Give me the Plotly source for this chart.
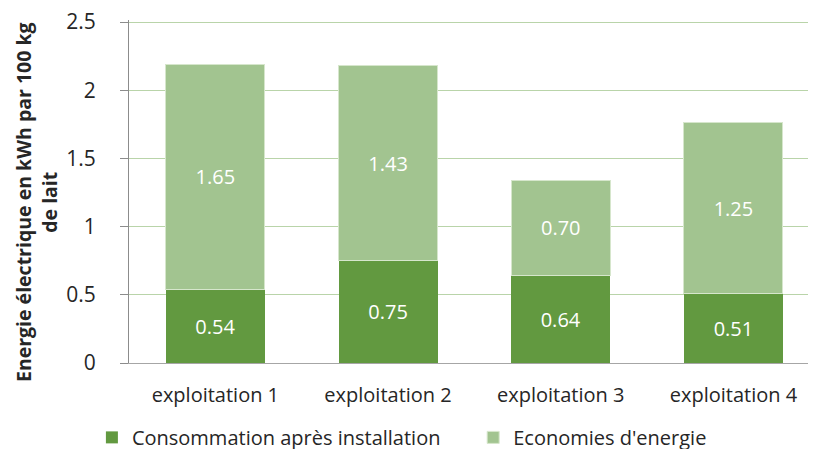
import plotly.graph_objects as go

categories = ["exploitation 1", "exploitation 2", "exploitation 3", "exploitation 4"]
consommation = [0.54, 0.75, 0.64, 0.51]
economies = [1.65, 1.43, 0.70, 1.25]
series_names = ["Consommation après installation", "Economies d'energie"]
y_ticks = [0, 0.5, 1, 1.5, 2, 2.5]
y_tick_labels = ["0", "0.5", "1", "1.5", "2", "2.5"]
y_title = "<b>Energie électrique en kWh par 100 kg<br>de lait</b>"

dark = "#629940"
light = "#a2c490"
txt = "#262626"
font_family = "Open Sans, Noto Sans, sans-serif"

fig = go.Figure()
fig.add_trace(go.Bar(
    x=categories, y=consommation, name=series_names[0], legend="legend",
    marker=dict(color=dark, line=dict(width=0)),
    texttemplate="%{y:.2f}", textposition="inside", insidetextanchor="middle",
    textfont=dict(color="white", size=20, family=font_family),
    width=0.573,
))
fig.add_trace(go.Bar(
    x=categories, y=economies, name=series_names[1], legend="legend2",
    marker=dict(color=light, line=dict(width=1, color="#d6e6cc")),
    texttemplate="%{y:.2f}", textposition="inside", insidetextanchor="middle",
    textfont=dict(color="white", size=20, family=font_family),
    width=0.573,
))

legend_common = dict(
    orientation="h", xanchor="left", y=-0.16, yanchor="top",
    font=dict(size=20, color=txt), bgcolor="rgba(0,0,0,0)",
)

# page body has an 8px default margin; the figure is offset accordingly
fig.update_layout(
    barmode="stack",
    width=808, height=460,
    margin=dict(l=121, r=0, t=12, b=105),
    paper_bgcolor="white", plot_bgcolor="white",
    font=dict(family=font_family, size=20, color=txt),
    uniformtext=dict(mode=False),
    showlegend=True,
    legend=dict(x=-0.054, **legend_common),
    legend2=dict(x=0.501, **legend_common),
    xaxis=dict(
        range=[-0.5, 3.478],
        showline=True, linecolor="#a6a6a6", linewidth=1, automargin=False,
        ticks="", tickfont=dict(size=20, color=txt), showgrid=False,
        ticklabelstandoff=14,
    ),
    yaxis=dict(
        range=[0, 2.515], tickvals=y_ticks, ticktext=y_tick_labels,
        showline=True, linecolor="#8c8c8c", linewidth=1, automargin=False,
        ticks="outside", ticklen=8, tickcolor="#8c8c8c",
        showgrid=True, gridcolor="#b9d4a9", gridwidth=1,
        zeroline=False, ticklabelstandoff=20, ticklabeloverflow="allow",
        tickfont=dict(size=21, color=txt),
    ),
    annotations=[dict(
        text=y_title, textangle=-90, xref="paper", yref="paper",
        x=-0.135, y=0.47, xanchor="center", yanchor="middle", showarrow=False,
        font=dict(size=19.5, color=txt, family=font_family),
    )],
)

fig.write_html("out.html")
